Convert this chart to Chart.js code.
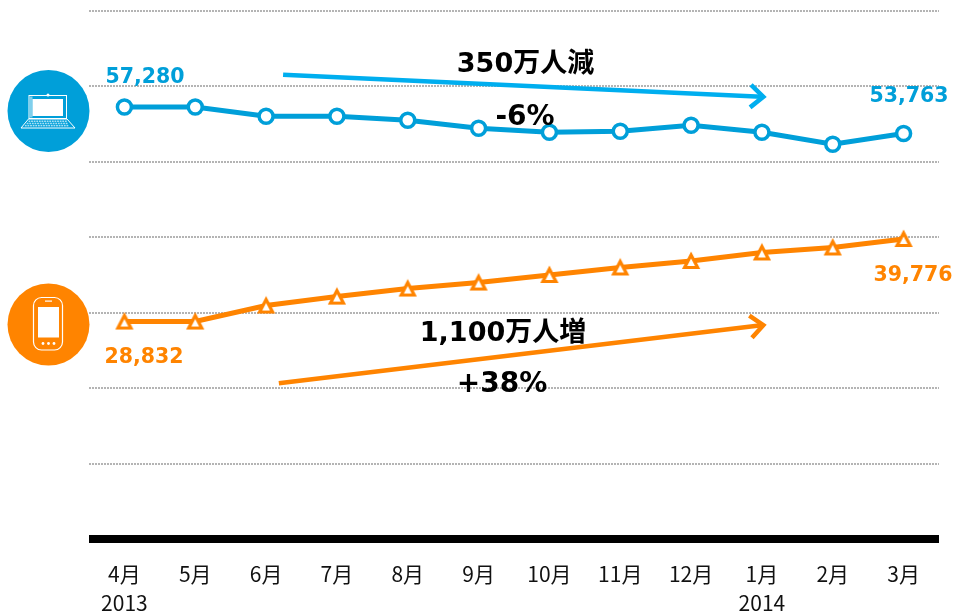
<!DOCTYPE html>
<html lang="ja">
<head>
  <meta charset="UTF-8" />
  <title>PCとスマートフォンの利用者数推移</title>
  <script src="https://cdn.jsdelivr.net/npm/chart.js"></script>
  <style>
    body { margin: 0; background: #fff; }
    canvas { display: block; }
  </style>
</head>
<body>
  <canvas id="usersChart" width="955" height="612"></canvas>

  <script>
    const months = [
      ['4月', '2013'], '5月', '6月', '7月', '8月', '9月', '10月', '11月', '12月',
      ['1月', '2014'], '2月', '3月'
    ];
    const pcUsers = [57280, 57280, 56050, 56050, 55520, 54460, 53930, 54060, 54860, 53930, 52330, 53763];
    const phoneUsers = [28832, 28832, 30950, 32140, 33210, 34000, 35000, 36000, 36860, 37990, 38650, 39776];

    const BLUE = '#009fd9';
    const ARROW_BLUE = '#00aeef';
    const ORANGE = '#ff8400';
    const LABEL_FONT = '"DejaVu Sans", "Noto Sans CJK JP", sans-serif';

    // 注釈テキスト
    const notes = [
      { text: '57,280', x: 145, y: 78, size: 20.5, color: BLUE },
      { text: '53,763', x: 909, y: 97, size: 20.5, color: BLUE },
      { text: '28,832', x: 144, y: 358, size: 20.5, color: ORANGE },
      { text: '39,776', x: 913, y: 276, size: 20.5, color: ORANGE },
      { text: '350万人減', x: 525.5, y: 65, size: 27, color: '#000' },
      { text: '-6%', x: 525, y: 118, size: 28, color: '#000' },
      { text: '1,100万人増', x: 503, y: 334, size: 27, color: '#000' },
      { text: '+38%', x: 502, y: 385, size: 28, color: '#000' }
    ];

    // 矢印（月の位置と人数で指定）
    const arrows = [
      { from: [2.24, 61560], to: [9.02, 58630], color: ARROW_BLUE },
      { from: [2.18, 20650], to: [9.02, 28350], color: ORANGE }
    ];

    // 三角マーカー（線が図形の中央を通るように自前で描く）
    function makeTriangle() {
      const c = document.createElement('canvas');
      c.width = 24;
      c.height = 24;
      const t = c.getContext('2d');
      t.beginPath();
      t.moveTo(12, 6);
      t.lineTo(18.5, 18.5);
      t.lineTo(5.5, 18.5);
      t.closePath();
      t.fillStyle = '#fff';
      t.fill();
      t.strokeStyle = ORANGE;
      t.lineWidth = 3.2;
      t.stroke();
      return c;
    }

    function drawArrow(ctx, x1, y1, x2, y2, color) {
      const a = Math.atan2(y2 - y1, x2 - x1);
      const head = 17;
      ctx.strokeStyle = color;
      ctx.lineWidth = 4.5;
      ctx.lineCap = 'butt';
      ctx.beginPath();
      ctx.moveTo(x1, y1);
      ctx.lineTo(x2 - 2, y2);
      ctx.stroke();
      ctx.lineJoin = 'miter';
      ctx.beginPath();
      ctx.moveTo(x2 - head * Math.cos(a - 0.72), y2 - head * Math.sin(a - 0.72));
      ctx.lineTo(x2, y2);
      ctx.lineTo(x2 - head * Math.cos(a + 0.72), y2 - head * Math.sin(a + 0.72));
      ctx.stroke();
    }

    function drawLaptop(ctx) {
      ctx.fillStyle = BLUE;
      ctx.beginPath();
      ctx.arc(48.5, 111, 41, 0, Math.PI * 2);
      ctx.fill();
      ctx.strokeStyle = '#fff';
      ctx.lineWidth = 1;
      ctx.strokeRect(29, 95.5, 37.5, 23);
      ctx.fillStyle = '#7fcfec';
      ctx.fillRect(30, 96.5, 2.5, 21);
      ctx.fillStyle = '#fff';
      ctx.fillRect(32.5, 99, 30.5, 17);
      ctx.beginPath();
      ctx.arc(48, 95, 1.5, 0, Math.PI * 2);
      ctx.fill();
      ctx.beginPath();
      ctx.moveTo(28.5, 119);
      ctx.lineTo(67, 119);
      ctx.lineTo(75, 128);
      ctx.lineTo(21, 128);
      ctx.closePath();
      ctx.stroke();
      // キーボード
      ctx.fillStyle = '#a8e0f5';
      for (let row = 0; row < 3; row++) {
        const y = 120.5 + row * 2.2;
        const start = 28.5 - row * 1.8;
        for (let col = 0; col < 15 + row; col++) {
          ctx.fillRect(start + col * 2.6, y, 1.8, 1.5);
        }
      }
    }

    function drawPhone(ctx) {
      ctx.fillStyle = ORANGE;
      ctx.beginPath();
      ctx.arc(48.5, 324.5, 41, 0, Math.PI * 2);
      ctx.fill();
      ctx.strokeStyle = '#fff';
      ctx.lineWidth = 1.2;
      ctx.beginPath();
      ctx.roundRect(33.5, 297.5, 29, 52.5, 8);
      ctx.stroke();
      ctx.fillStyle = '#fff';
      ctx.fillRect(38, 307, 21, 30.5);
      ctx.fillRect(45, 300.5, 7, 1.2);
      [43, 48.5, 54].forEach(x => {
        ctx.beginPath();
        ctx.arc(x, 343.5, 1.4, 0, Math.PI * 2);
        ctx.fill();
      });
    }

    const annotationPlugin = {
      id: 'annotations',
      afterDraw(chart) {
        const ctx = chart.ctx;
        const xs = chart.scales.x;
        const ys = chart.scales.y;
        ctx.save();
        arrows.forEach(a => {
          drawArrow(ctx,
            xs.getPixelForValue(a.from[0]), ys.getPixelForValue(a.from[1]),
            xs.getPixelForValue(a.to[0]), ys.getPixelForValue(a.to[1]), a.color);
        });
        drawLaptop(ctx);
        drawPhone(ctx);
        ctx.textAlign = 'center';
        ctx.textBaseline = 'middle';
        notes.forEach(n => {
          ctx.font = 'bold ' + n.size + 'px ' + LABEL_FONT;
          ctx.fillStyle = n.color;
          ctx.fillText(n.text, n.x, n.y);
        });
        ctx.restore();
      }
    };

    new Chart(document.getElementById('usersChart'), {
      type: 'line',
      data: {
        labels: months,
        datasets: [
          {
            label: 'PC',
            data: pcUsers,
            borderColor: BLUE,
            backgroundColor: '#fff',
            borderWidth: 5,
            tension: 0,
            pointStyle: 'circle',
            pointRadius: 7,
            pointBorderWidth: 3.5
          },
          {
            label: 'スマートフォン',
            data: phoneUsers,
            borderColor: ORANGE,
            backgroundColor: '#fff',
            borderWidth: 5,
            tension: 0,
            pointStyle: makeTriangle(),
            pointRadius: 8
          }
        ]
      },
      options: {
        responsive: false,
        animation: false,
        layout: { autoPadding: false, padding: { left: 89, right: 16, top: 11, bottom: 0 } },
        plugins: {
          legend: { display: false },
          title: { display: false },
          tooltip: { enabled: false }
        },
        scales: {
          x: {
            offset: true,
            grid: { display: false, drawTicks: false },
            border: { display: false },
            afterFit(scale) { scale.height = 73; },
            ticks: {
              autoSkip: false,
              maxRotation: 0,
              padding: 20,
              color: '#111',
              font: { family: '"Noto Sans CJK JP", sans-serif', size: 21, lineHeight: 1.4 }
            }
          },
          y: {
            min: 0,
            max: 70000,
            // 0の線だけ太い黒
            grid: {
              color: c => (c.tick.value === 0 ? '#000' : '#b4b4b4'),
              lineWidth: c => (c.tick.value === 0 ? 8 : 2),
              drawTicks: false
            },
            border: { display: false, dash: c => (c.tick.value === 0 ? [] : [2, 1]) },
            ticks: { display: false, stepSize: 10000 }
          }
        }
      },
      plugins: [annotationPlugin]
    });
  </script>
</body>
</html>
